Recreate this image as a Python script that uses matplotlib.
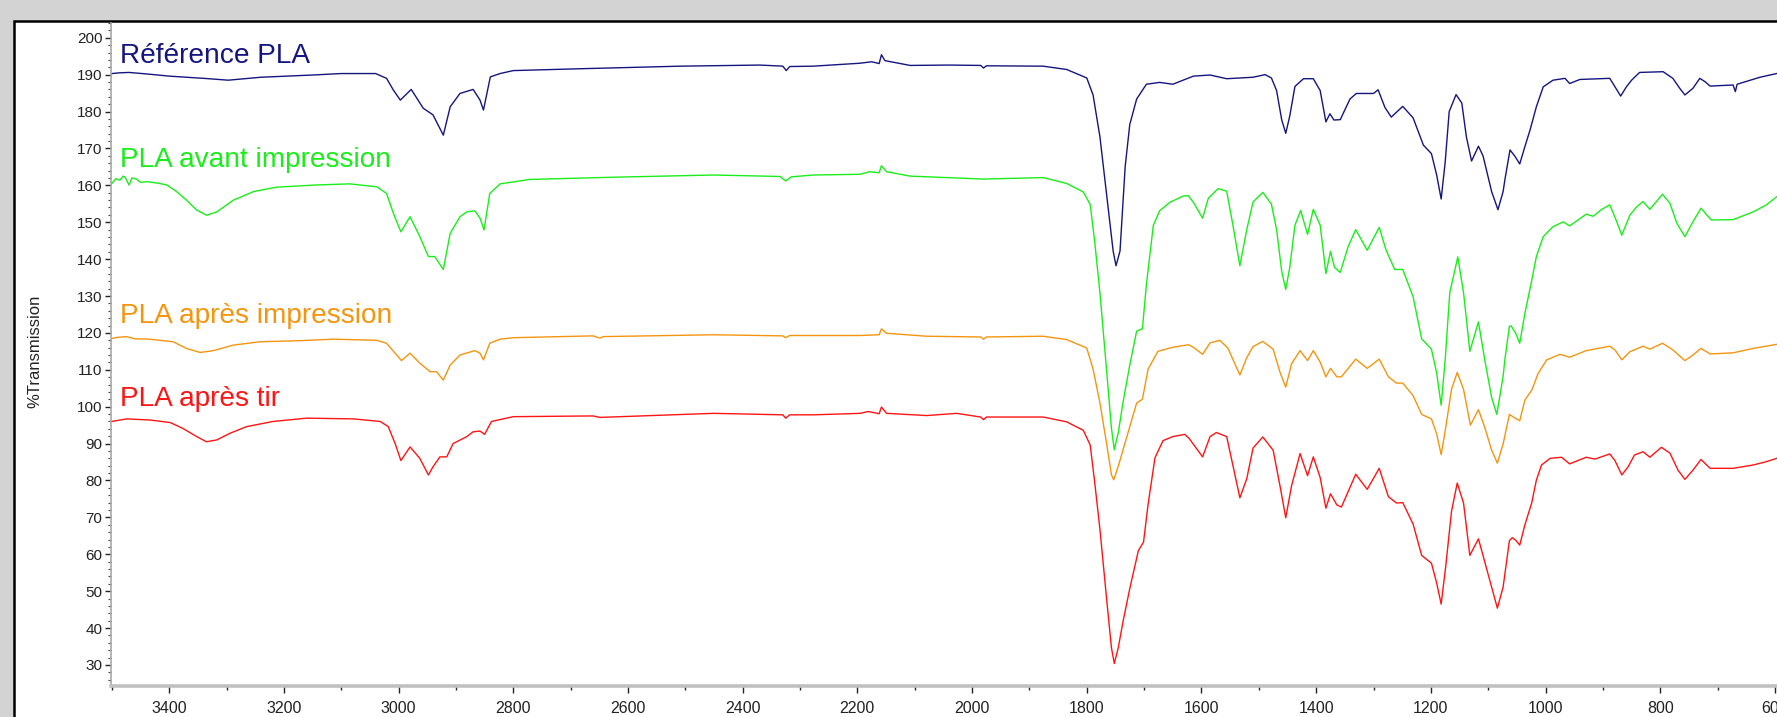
import matplotlib
matplotlib.use("Agg")
import matplotlib.pyplot as plt
from matplotlib.patches import Rectangle
from matplotlib.ticker import MultipleLocator

plt.rcParams["font.family"] = ["Liberation Sans", "DejaVu Sans"]

# --- spectra (wavenumber cm-1, %T) ---
ref_wn = [3500, 3486, 3470, 3440, 3400, 3340, 3297, 3240, 3150, 3100, 3040, 3021, 3009, 2997, 2978,
          2957, 2940, 2922, 2910, 2893, 2870, 2858, 2852, 2840, 2823, 2800, 2684, 2509, 2370, 2330,
          2324, 2318, 2277, 2195, 2175, 2162, 2158, 2152, 2108, 2040, 1985, 1980, 1975, 1876, 1835,
          1800, 1789, 1777, 1765, 1754, 1749, 1742, 1733, 1725, 1713, 1696, 1673, 1650, 1614, 1585,
          1556, 1533, 1510, 1489, 1478, 1469, 1460, 1453, 1446, 1437, 1422, 1405, 1393, 1383, 1376,
          1369, 1358, 1341, 1330, 1300, 1292, 1280, 1269, 1249, 1231, 1213, 1199, 1190, 1182, 1175,
          1168, 1156, 1146, 1138, 1129, 1117, 1109, 1094, 1083, 1074, 1071, 1062, 1053, 1045, 1036,
          1027, 1016, 1004, 987, 966, 958, 940, 888, 879, 869, 859, 850, 836, 795, 778,
          766, 757, 743, 731, 722, 713, 673, 669, 666, 626, 597]
ref_t = [190.3, 190.5, 190.6, 190.2, 189.6, 189.0, 188.5, 189.3, 189.9, 190.3, 190.3, 189.0, 185.8, 183.1, 186.0,
         180.9, 179.1, 173.6, 181.3, 184.9, 186.0, 183.1, 180.4, 189.4, 190.3, 191.1, 191.6, 192.3, 192.6, 192.3,
         191.1, 192.2, 192.3, 193.1, 193.5, 193.0, 195.4, 193.8, 192.5, 192.6, 192.5, 191.8, 192.4, 192.3, 191.4,
         189.1, 184.5, 173.1, 157.1, 142.2, 138.2, 142.2, 165.1, 176.5, 183.4, 187.4, 187.9, 187.4, 189.6, 189.9,
         188.9, 189.1, 189.3, 190.0, 189.1, 185.7, 177.7, 174.1, 178.8, 186.8, 188.9, 188.9, 185.7, 177.2, 179.4,
         177.7, 177.8, 183.4, 184.9, 184.9, 185.9, 181.1, 178.5, 181.4, 178.3, 170.9, 168.6, 162.9, 156.3, 166.3,
         180.0, 184.6, 182.3, 173.1, 166.6, 170.6, 168.0, 158.3, 153.4, 158.3, 161.4, 169.6, 167.8, 165.8, 170.5,
         175.0, 181.3, 186.7, 188.5, 189.0, 187.6, 188.7, 189.0, 186.7, 184.2, 186.7, 188.5, 190.6, 190.8, 189.0,
         186.3, 184.5, 186.3, 189.0, 188.1, 186.9, 187.2, 185.4, 187.4, 189.3, 190.3]

avant_wn = [3500, 3493, 3486, 3480, 3477, 3470, 3465, 3457, 3450, 3439, 3420, 3404, 3387, 3370, 3352,
            3335, 3317, 3288, 3253, 3213, 3143, 3085, 3038, 3021, 3009, 2996, 2980, 2963, 2948, 2937,
            2922, 2910, 2893, 2881, 2867, 2858, 2851, 2841, 2823, 2771, 2626, 2451, 2335, 2325, 2315,
            2277, 2195, 2178, 2162, 2158, 2149, 2108, 1980, 1876, 1835, 1806, 1794, 1786, 1777, 1765,
            1757, 1752, 1745, 1737, 1725, 1713, 1703, 1696, 1684, 1673, 1655, 1632, 1623, 1614, 1598,
            1588, 1571, 1556, 1545, 1533, 1521, 1510, 1493, 1478, 1469, 1460, 1453, 1446, 1437, 1427,
            1415, 1405, 1393, 1383, 1375, 1368, 1358, 1344, 1331, 1311, 1290, 1278, 1263, 1249, 1231,
            1216, 1199, 1190, 1182, 1175, 1167, 1153, 1143, 1132, 1117, 1106, 1094, 1085, 1074, 1071,
            1063, 1060, 1052, 1045, 1036, 1024, 1016, 1004, 987, 969, 958, 929, 917, 902, 888,
            877, 867, 853, 841, 830, 818, 796, 783, 771, 757, 743, 729, 711, 673, 638,
            615, 597]
avant_t = [160.5, 161.8, 161.4, 162.5, 162.2, 160.1, 162.0, 161.7, 160.8, 161.0, 160.6, 160.1, 158.3, 156.0, 153.3,
           151.9, 152.8, 156.0, 158.3, 159.5, 160.1, 160.4, 159.6, 157.8, 152.4, 147.4, 151.5, 146.1, 140.7, 140.7,
           137.2, 147.0, 151.5, 152.8, 153.1, 151.1, 147.9, 157.8, 160.4, 161.6, 162.2, 162.8, 162.4, 161.2, 162.3,
           162.8, 163.0, 163.7, 163.4, 165.3, 163.7, 162.5, 161.7, 162.1, 160.5, 158.2, 154.8, 144.5, 130.8, 109.1,
           94.2, 88.3, 93.0, 101.0, 111.3, 120.5, 121.1, 133.1, 149.1, 153.1, 155.4, 157.1, 157.2, 155.4, 151.1,
           156.5, 159.1, 158.4, 149.1, 138.2, 148.0, 155.5, 158.1, 154.9, 148.0, 136.6, 131.8, 137.8, 149.2, 153.2,
           146.7, 153.5, 149.2, 136.1, 142.1, 137.8, 136.4, 143.5, 148.0, 142.4, 148.6, 142.4, 137.2, 137.2, 129.8,
           118.4, 115.6, 109.3, 100.4, 112.7, 130.9, 140.6, 130.9, 115.0, 123.0, 112.7, 102.5, 97.9, 108.2, 112.7,
           121.8, 121.9, 119.9, 117.2, 125.3, 134.3, 140.7, 146.1, 148.8, 150.1, 149.0, 152.2, 151.6, 153.5, 154.7,
           150.6, 146.5, 151.9, 154.2, 155.6, 153.5, 157.6, 155.1, 149.7, 146.1, 150.1, 153.8, 150.6, 150.7, 152.8,
           154.7, 156.9]

apres_wn = [3500, 3490, 3474, 3460, 3434, 3393, 3370, 3346, 3323, 3288, 3242, 3172, 3114, 3038, 3021,
            3006, 2995, 2980, 2963, 2945, 2934, 2922, 2910, 2893, 2867, 2858, 2852, 2841, 2823, 2800,
            2661, 2649, 2643, 2451, 2330, 2325, 2318, 2195, 2162, 2158, 2149, 2079, 1985, 1980, 1975,
            1876, 1835, 1800, 1789, 1777, 1765, 1757, 1753, 1745, 1730, 1713, 1703, 1693, 1676, 1650,
            1623, 1614, 1598, 1585, 1568, 1554, 1533, 1521, 1510, 1493, 1475, 1463, 1453, 1443, 1428,
            1415, 1405, 1393, 1383, 1375, 1364, 1356, 1331, 1311, 1290, 1274, 1260, 1249, 1231, 1216,
            1199, 1190, 1182, 1174, 1164, 1154, 1143, 1131, 1117, 1106, 1094, 1084, 1074, 1063, 1061,
            1053, 1045, 1036, 1024, 1013, 998, 975, 958, 929, 888, 879, 867, 853, 830, 818,
            796, 778, 757, 743, 729, 713, 673, 638, 597]
apres_t = [118.5, 118.8, 119.0, 118.4, 118.3, 117.6, 115.8, 114.7, 115.2, 116.7, 117.6, 117.9, 118.3, 118.0, 117.2,
           114.5, 112.5, 114.5, 111.8, 109.5, 109.5, 107.2, 111.3, 114.0, 115.2, 114.5, 112.7, 117.2, 118.3, 118.7,
           119.2, 118.6, 119.0, 119.5, 119.2, 118.7, 119.3, 119.3, 119.5, 121.1, 119.9, 119.1, 118.9, 118.3, 118.9,
           119.1, 118.2, 115.9, 110.2, 101.0, 89.6, 81.6, 80.2, 83.9, 91.9, 101.0, 102.0, 110.2, 115.0, 116.1,
           116.8, 116.1, 114.2, 117.3, 118.0, 115.9, 108.6, 113.3, 116.3, 117.7, 115.6, 109.3, 105.3, 111.6, 115.2,
           112.5, 115.2, 112.1, 108.1, 110.4, 108.1, 108.1, 112.9, 110.4, 112.9, 108.1, 106.4, 106.4, 103.0, 97.9,
           96.7, 92.7, 87.0, 94.4, 104.7, 109.3, 104.7, 95.0, 99.2, 94.4, 88.2, 84.7, 89.9, 97.9, 97.7,
           96.9, 96.2, 101.8, 104.5, 109.0, 112.7, 114.2, 113.4, 115.2, 116.4, 115.4, 112.7, 114.9, 116.4, 115.6,
           117.2, 115.4, 112.5, 114.0, 115.8, 114.3, 114.6, 115.8, 116.9]

tir_wn = [3500, 3474, 3434, 3398, 3376, 3352, 3335, 3317, 3294, 3265, 3219, 3160, 3079, 3032, 3018,
          3006, 2996, 2980, 2963, 2948, 2940, 2928, 2916, 2905, 2881, 2870, 2858, 2850, 2838, 2800,
          2661, 2649, 2451, 2330, 2325, 2318, 2277, 2195, 2181, 2162, 2158, 2149, 2079, 2027, 1985,
          1980, 1975, 1876, 1835, 1806, 1794, 1786, 1777, 1765, 1757, 1752, 1745, 1737, 1725, 1710,
          1701, 1693, 1681, 1667, 1650, 1629, 1621, 1598, 1585, 1574, 1556, 1545, 1533, 1521, 1510,
          1493, 1475, 1463, 1453, 1443, 1428, 1415, 1405, 1393, 1383, 1375, 1364, 1356, 1331, 1311,
          1290, 1274, 1260, 1249, 1231, 1216, 1199, 1190, 1182, 1174, 1164, 1154, 1143, 1132, 1117,
          1106, 1094, 1084, 1074, 1063, 1058, 1052, 1045, 1036, 1024, 1016, 1007, 992, 972, 958,
          929, 914, 888, 879, 867, 856, 845, 830, 818, 798, 783, 769, 757, 743, 729,
          713, 673, 638, 615, 597]
tir_t = [96.0, 96.7, 96.4, 95.7, 94.1, 91.9, 90.5, 91.0, 92.8, 94.6, 96.0, 96.9, 96.7, 96.0, 94.6,
         90.0, 85.4, 89.1, 86.0, 81.5, 83.7, 86.4, 86.4, 90.0, 91.9, 93.2, 93.4, 92.5, 96.0, 97.3,
         97.5, 97.1, 98.2, 97.8, 96.9, 97.8, 97.8, 98.2, 98.7, 98.1, 99.9, 98.2, 97.6, 98.2, 97.2,
         96.5, 97.2, 97.2, 95.9, 93.6, 89.6, 79.3, 66.7, 47.3, 34.7, 30.4, 34.7, 41.6, 50.7, 61.0,
         63.3, 73.6, 86.2, 90.8, 91.9, 92.5, 91.3, 86.4, 91.9, 93.0, 91.9, 83.9, 75.3, 80.5, 88.8,
         91.8, 88.2, 78.5, 69.9, 78.5, 87.3, 81.3, 86.4, 80.8, 72.5, 76.4, 73.4, 72.8, 81.7, 77.6,
         83.3, 75.6, 73.9, 74.0, 68.2, 59.7, 57.6, 52.3, 46.5, 56.8, 71.6, 79.3, 73.9, 59.7, 64.2,
         57.9, 51.1, 45.4, 51.1, 63.7, 64.5, 63.8, 62.5, 68.0, 74.0, 80.1, 84.2, 86.0, 86.3, 84.5,
         86.3, 85.8, 87.2, 85.4, 81.5, 83.7, 86.9, 87.8, 86.3, 89.0, 87.4, 82.8, 80.3, 82.8, 85.7,
         83.3, 83.3, 84.2, 85.1, 86.0]

labels = ["Référence PLA", "PLA avant impression", "PLA après impression", "PLA après tir"]
label_y = [193.1, 165.0, 122.7, 100.2]
colors = ["#15157f", "#1aee1a", "#f4950f", "#ff1414"]

W, H = 1777, 717
fig = plt.figure(figsize=(W / 100, H / 100), dpi=100, facecolor="#d3d3d3")

# white panel with black frame (screenshot window), kept behind the axes
panel = Rectangle((14 / W, -0.05), 1.1, 1.05 - 21 / H, transform=fig.transFigure,
                  facecolor="white", edgecolor="black", lw=1.8, zorder=-10)
fig.add_artist(panel)

ax = fig.add_axes([110.7 / W, 31 / H, (W - 110.7) / W, (686 - 23) / H])
ax.set_zorder(5)
ax.set_facecolor("none")

series = [(ref_wn, ref_t), (avant_wn, avant_t), (apres_wn, apres_t), (tir_wn, tir_t)]
for (wn, t), c in zip(series, colors):
    ax.plot(wn, t, color=c, lw=1.0)

for lab, y, c in zip(labels, label_y, colors):
    ax.text(3486, y, lab, color=c, fontsize=20.2, va="baseline", ha="left")

ax.set_xlim(3502, 596.4)
ax.set_ylim(24.3, 204)
ax.xaxis.set_major_locator(MultipleLocator(200))
ax.xaxis.set_minor_locator(MultipleLocator(100))
ax.yaxis.set_major_locator(MultipleLocator(10))
ax.yaxis.set_minor_locator(MultipleLocator(2))

for s in ["top", "right"]:
    ax.spines[s].set_visible(False)
ax.spines["left"].set_color("#a8a8a8")
ax.spines["left"].set_linewidth(1.2)
ax.spines["bottom"].set_color("#c0c0c0")
ax.spines["bottom"].set_linewidth(2.6)

ax.tick_params(axis="x", which="major", length=5, width=1, color="#222222",
               labelsize=11.5, pad=6, labelcolor="#222222")
ax.tick_params(axis="x", which="minor", length=3, width=1, color="#222222")
ax.tick_params(axis="y", which="major", length=4, width=1, color="#222222",
               labelsize=11, pad=2, labelcolor="#222222")
ax.tick_params(axis="y", which="minor", length=2, width=0.8, color="#444444")

ax.set_ylabel("%Transmission", fontsize=12, color="#222222")
ax.yaxis.set_label_coords(-0.0412, 0.505)

fig.savefig("out.png", dpi=100, facecolor=fig.get_facecolor())
